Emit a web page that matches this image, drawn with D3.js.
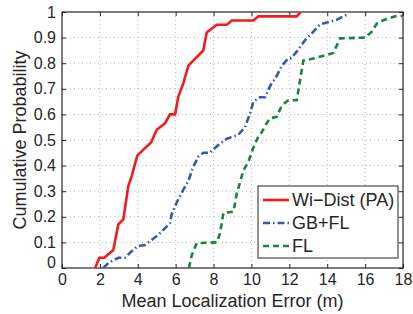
<!DOCTYPE html>
<html>
<head>
<meta charset="utf-8">
<script src="https://cdn.jsdelivr.net/npm/d3@7"></script>
<style>
  body { margin: 0; background: #fff; }
  text { font-family: "Liberation Sans", Arial, Helvetica, sans-serif; fill: #262626; }
</style>
</head>
<body>
<div id="chart"></div>
<script>
// mean localization error (m) and cumulative probability
var wiDistErr = [1.75, 1.97, 2.23, 2.71, 2.97, 3.24, 3.5, 3.68, 3.98, 4.7, 5.0, 5.44, 5.7, 5.97, 6.14, 6.4, 6.67, 6.93, 7.2, 7.46, 7.64, 8.17, 8.7, 8.96, 10.1, 10.37, 12.39, 12.6];
var wiDistCdf = [0, 0.04, 0.04, 0.07, 0.17, 0.19, 0.32, 0.36, 0.44, 0.49, 0.54, 0.565, 0.6, 0.6, 0.67, 0.72, 0.79, 0.81, 0.83, 0.85, 0.92, 0.95, 0.95, 0.967, 0.967, 0.983, 0.983, 1.0];

var gbflErr = [2.18, 2.45, 2.97, 3.33, 3.6, 3.98, 4.38, 5.09, 5.7, 5.79, 6.05, 6.4, 6.67, 6.93, 7.2, 7.46, 7.8, 8.25, 8.7, 9.3, 9.66, 9.93, 10.1, 10.45, 10.72, 10.98, 11.33, 11.6, 11.95, 12.1, 12.39, 12.83, 13.27, 13.62, 14.15, 14.5, 15.05];
var gbflCdf = [0, 0.02, 0.04, 0.04, 0.06, 0.085, 0.09, 0.13, 0.175, 0.21, 0.255, 0.305, 0.34, 0.395, 0.435, 0.45, 0.45, 0.48, 0.505, 0.52, 0.55, 0.605, 0.65, 0.667, 0.667, 0.71, 0.75, 0.79, 0.82, 0.82, 0.845, 0.89, 0.923, 0.952, 0.962, 0.97, 0.99];

var flErr = [6.7, 6.85, 7.11, 8.17, 8.34, 8.52, 9.05, 9.22, 9.4, 9.57, 9.84, 10.1, 10.37, 10.54, 10.8, 10.98, 11.33, 11.6, 11.95, 12.39, 12.57, 12.74, 13.36, 14.32, 14.68, 16.0, 16.35, 16.62, 16.97, 17.58, 18.0];
var flCdf = [0, 0.05, 0.097, 0.1, 0.135, 0.215, 0.22, 0.29, 0.335, 0.38, 0.415, 0.47, 0.515, 0.53, 0.565, 0.585, 0.59, 0.635, 0.655, 0.655, 0.735, 0.81, 0.82, 0.84, 0.897, 0.9, 0.923, 0.955, 0.968, 0.983, 0.985];

var seriesNames = ["Wi\u2212Dist (PA)", "GB+FL", "FL"];
var xTicks = [0, 2, 4, 6, 8, 10, 12, 14, 16, 18];
var yTicks = [0, 0.1, 0.2, 0.3, 0.4, 0.5, 0.6, 0.7, 0.8, 0.9, 1];

var margin = { top: 12, right: 10, bottom: 46, left: 62 },
    width = 413 - margin.left - margin.right,
    height = 314 - margin.top - margin.bottom;

var svg = d3.select("#chart")
    .append("svg")
    .attr("width", 413)
    .attr("height", 314)
    .append("g")
    .attr("transform", "translate(" + margin.left + "," + margin.top + ")");

var x = d3.scaleLinear().domain([0, 18]).range([0, width]);
var y = d3.scaleLinear().domain([0, 1]).range([height, 0]);

// dotted grid
svg.append("g").selectAll("line.xg")
    .data(xTicks.slice(1, -1))
    .enter().append("line")
    .attr("x1", d => x(d)).attr("x2", d => x(d))
    .attr("y1", 0).attr("y2", height)
    .attr("stroke", "#b8b8b8")
    .attr("stroke-dasharray", "1,3");

svg.append("g").selectAll("line.yg")
    .data(yTicks.slice(1, -1))
    .enter().append("line")
    .attr("x1", 0).attr("x2", width)
    .attr("y1", d => y(d)).attr("y2", d => y(d))
    .attr("stroke", "#b8b8b8")
    .attr("stroke-dasharray", "1,3");

// axes, ticks inward on all four sides
function styleAxis(g) {
    g.select(".domain").remove();
    g.selectAll(".tick line").attr("stroke", "#262626");
    g.selectAll(".tick text").style("font-size", "16px").attr("fill", "#262626");
}

svg.append("g")
    .attr("transform", "translate(0," + height + ")")
    .call(d3.axisBottom(x).tickValues(xTicks).tickSize(-4).tickPadding(6).tickFormat(d3.format("d")))
    .call(styleAxis);

svg.append("g")
    .call(d3.axisLeft(y).tickValues(yTicks).tickSize(-4).tickPadding(6).tickFormat(d => d === 0 || d === 1 ? d : d.toFixed(1)))
    .call(styleAxis)
    .selectAll(".tick text")
    .filter(d => d === 0)
    .attr("dy", "-0.05em");

svg.append("g")
    .call(d3.axisTop(x).tickValues(xTicks).tickSize(-4).tickFormat(""))
    .call(styleAxis);

svg.append("g")
    .attr("transform", "translate(" + width + ",0)")
    .call(d3.axisRight(y).tickValues(yTicks).tickSize(-4).tickFormat(""))
    .call(styleAxis);

svg.append("rect")
    .attr("width", width)
    .attr("height", height)
    .attr("fill", "none")
    .attr("stroke", "#262626")
    .attr("stroke-width", 1.2);

// curves
var line = d3.line()
    .x(d => x(d[0]))
    .y(d => y(d[1]));

var series = [
    { name: seriesNames[0], pts: d3.zip(wiDistErr, wiDistCdf), color: "#f21c1c", dash: null },
    { name: seriesNames[1], pts: d3.zip(gbflErr, gbflCdf), color: "#3a57a8", dash: "7,3,1.5,3" },
    { name: seriesNames[2], pts: d3.zip(flErr, flCdf), color: "#18843c", dash: "6,4" }
];

svg.append("defs").append("clipPath").attr("id", "plotClip")
    .append("rect").attr("width", width).attr("height", height);

svg.append("g").attr("clip-path", "url(#plotClip)")
    .selectAll("path.curve")
    .data(series)
    .enter().append("path")
    .attr("class", "curve")
    .attr("d", d => line(d.pts))
    .attr("fill", "none")
    .attr("stroke", d => d.color)
    .attr("stroke-width", 2.6)
    .attr("stroke-dasharray", d => d.dash);

// legend
var legend = svg.append("g").attr("transform", "translate(196,174)");
legend.append("rect")
    .attr("width", 140)
    .attr("height", 72)
    .attr("fill", "#fff")
    .attr("stroke", "#262626")
    .attr("stroke-width", 1);

var items = legend.selectAll("g.item")
    .data(series)
    .enter().append("g")
    .attr("class", "item")
    .attr("transform", (d, i) => "translate(0," + (14 + i * 23) + ")");

items.append("line")
    .attr("x1", 5).attr("x2", 31)
    .attr("stroke", d => d.color)
    .attr("stroke-width", 2.6)
    .attr("stroke-dasharray", d => d.dash);

items.append("text")
    .attr("x", 34)
    .attr("dy", "0.36em")
    .style("font-size", "18px")
    .text(d => d.name);

// axis titles
svg.append("text")
    .attr("text-anchor", "middle")
    .attr("x", width / 2)
    .attr("y", height + 39)
    .style("font-size", "18px")
    .text("Mean Localization Error (m)");

svg.append("text")
    .attr("text-anchor", "middle")
    .attr("transform", "rotate(-90)")
    .attr("x", -height / 2)
    .attr("y", -margin.left + 26)
    .style("font-size", "18px")
    .text("Cumulative Probability");
</script>
</body>
</html>
